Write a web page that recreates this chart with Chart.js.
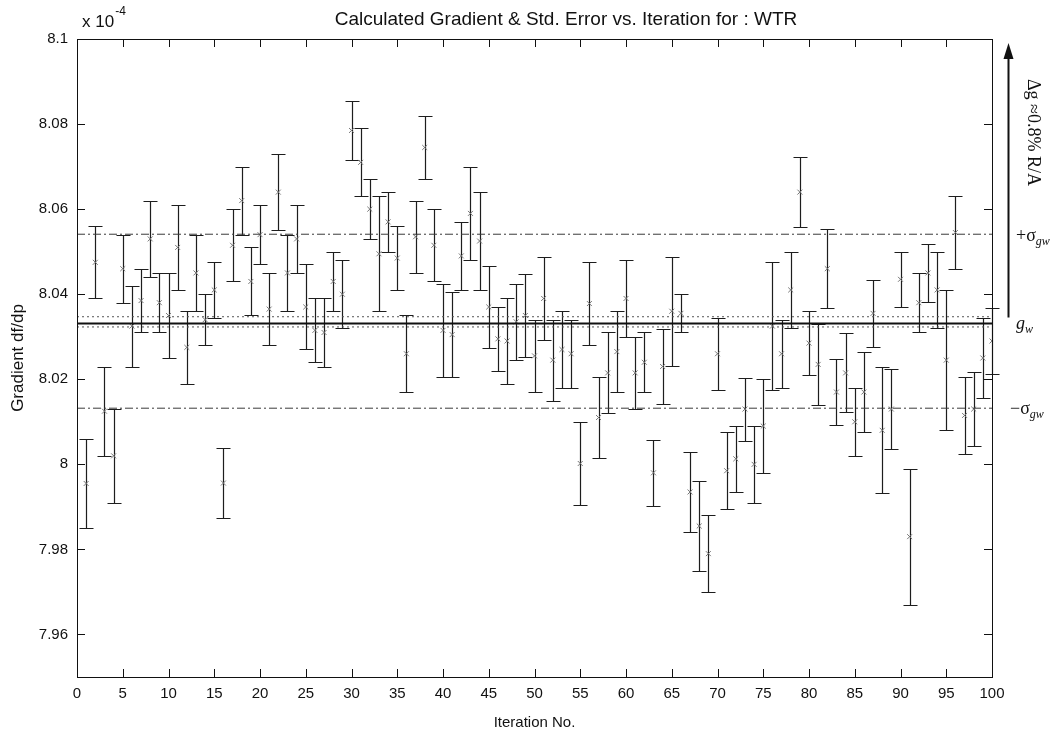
<!DOCTYPE html>
<html>
<head>
<meta charset="utf-8">
<title>Calculated Gradient & Std. Error vs. Iteration</title>
<script src="https://cdn.jsdelivr.net/npm/chart.js@4/dist/chart.umd.min.js"></script>
<style>
  html, body { margin: 0; padding: 0; background: #fff; }
  #wrap { width: 1054px; height: 739px; }
</style>
</head>
<body>
<div id="wrap"><canvas id="gradChart" width="1054" height="739"></canvas></div>
<script>
// iteration numbers (x categories)
const iterations = [
  1, 2, 3, 4, 5, 6, 7, 8, 9, 10, 11, 12, 13, 14, 15, 16, 17, 18, 19, 20,
  21, 22, 23, 24, 25, 26, 27, 28, 29, 30, 31, 32, 33, 34, 35, 36, 37, 38, 39, 40,
  41, 42, 43, 44, 45, 46, 47, 48, 49, 50, 51, 52, 53, 54, 55, 56, 57, 58, 59, 60,
  61, 62, 63, 64, 65, 66, 67, 68, 69, 70, 71, 72, 73, 74, 75, 76, 77, 78, 79, 80,
  81, 82, 83, 84, 85, 86, 87, 88, 89, 90, 91, 92, 93, 94, 95, 96, 97, 98, 99, 100
];

// calculated gradient df/dp (x 1e-4)
const gradient = [
  7.9955, 8.0475, 8.0125, 8.002, 8.046, 8.0325, 8.0385, 8.053, 8.038, 8.035,
  8.051, 8.0275, 8.045, 8.034, 8.041, 7.9956, 8.0515, 8.062, 8.043, 8.054,
  8.0365, 8.064, 8.045, 8.053, 8.037, 8.0315, 8.031, 8.043, 8.040, 8.0785,
  8.071, 8.060, 8.0495, 8.057, 8.0485, 8.026, 8.0535, 8.0745, 8.0515, 8.0315,
  8.0305, 8.049, 8.059, 8.0525, 8.037, 8.0295, 8.029, 8.0335, 8.035, 8.0255,
  8.039, 8.0245, 8.027, 8.026, 8.0002, 8.0378, 8.011, 8.0215, 8.0265, 8.039,
  8.0215, 8.024, 7.998, 8.023, 8.036, 8.0355, 7.9935, 7.9855, 7.979, 8.026,
  7.9985, 8.0013, 8.013, 8.000, 8.009, 8.0325, 8.026, 8.041, 8.064, 8.0285,
  8.0235, 8.046, 8.017, 8.0215, 8.010, 8.017, 8.0355, 8.008, 8.013, 8.0435,
  7.983, 8.038, 8.045, 8.041, 8.0245, 8.0545, 8.0115, 8.013, 8.025, 8.029
];

// standard error (half length of each bar, x 1e-4)
const stdError = [
  0.0105, 0.0085, 0.0105, 0.011, 0.008, 0.0095, 0.0075, 0.009, 0.007, 0.010,
  0.010, 0.0085, 0.009, 0.006, 0.0065, 0.0082, 0.0085, 0.008, 0.008, 0.007,
  0.0085, 0.009, 0.009, 0.008, 0.010, 0.0075, 0.008, 0.007, 0.008, 0.007,
  0.008, 0.007, 0.0135, 0.007, 0.0075, 0.009, 0.0085, 0.0075, 0.0085, 0.011,
  0.010, 0.008, 0.011, 0.0115, 0.0097, 0.0075, 0.010, 0.009, 0.0097, 0.0085,
  0.0097, 0.0095, 0.009, 0.008, 0.0098, 0.0097, 0.0095, 0.0095, 0.0095, 0.009,
  0.0085, 0.007, 0.0077, 0.0088, 0.0128, 0.0045, 0.0095, 0.0105, 0.009, 0.0085,
  0.009, 0.0078, 0.0074, 0.009, 0.011, 0.015, 0.008, 0.009, 0.0083, 0.0075,
  0.0095, 0.0093, 0.0078, 0.0093, 0.008, 0.0094, 0.0079, 0.0148, 0.0093, 0.0065,
  0.016, 0.007, 0.0068, 0.009, 0.0165, 0.0085, 0.009, 0.0086, 0.0093, 0.0077
];

// weighted mean gradient and +/- sigma bands
const gwMean = 8.0331;
const sigmaPlus = 8.0541;
const sigmaMinus = 8.0132;
const dottedUpper = 8.0347;
const dottedLower = 8.0323;

const xTicks = [0, 5, 10, 15, 20, 25, 30, 35, 40, 45, 50, 55, 60, 65, 70, 75, 80, 85, 90, 95, 100];
const yTickValues = [7.96, 7.98, 8, 8.02, 8.04, 8.06, 8.08, 8.1];
const yTickLabels = ['7.96', '7.98', '8', '8.02', '8.04', '8.06', '8.08', '8.1'];

const titleText = 'Calculated Gradient & Std. Error vs. Iteration for : WTR';
const deltaText = '\u0394g \u22480.8% R/A';

const sansFont = '"Liberation Sans", Arial, sans-serif';
const serifFont = '"Liberation Serif", "Times New Roman", serif';

function hLine(value, dash, width, color) {
  return {
    type: 'line',
    data: [{x: 0, y: value}, {x: 100, y: value}],
    borderColor: color,
    borderWidth: width,
    borderDash: dash,
    pointRadius: 0,
    showLine: true,
    fill: false
  };
}

// error bars drawn from the scales, under the markers
const errorBars = {
  id: 'errorBars',
  beforeDatasetsDraw(chart) {
    const {ctx, scales: {x, y}} = chart;
    ctx.save();
    ctx.strokeStyle = '#1d1d1d';
    ctx.lineWidth = 1.2;
    iterations.forEach((it, k) => {
      const px = Math.round(x.getPixelForValue(it)) + 0.5;
      const top = Math.round(y.getPixelForValue(gradient[k] + stdError[k])) + 0.5;
      const bot = Math.round(y.getPixelForValue(gradient[k] - stdError[k])) + 0.5;
      ctx.beginPath();
      ctx.moveTo(px, top); ctx.lineTo(px, bot);
      ctx.moveTo(px - 7, top); ctx.lineTo(px + 7, top);
      ctx.moveTo(px - 7, bot); ctx.lineTo(px + 7, bot);
      ctx.stroke();
    });
    ctx.restore();
  }
};

function drawSub(ctx, main, sub, x, y, size, italicMain) {
  ctx.font = (italicMain ? 'italic ' : '') + size + 'px ' + serifFont;
  ctx.fillText(main, x, y);
  const w = ctx.measureText(main).width;
  ctx.font = 'italic ' + Math.round(size * 0.65) + 'px ' + serifFont;
  ctx.fillText(sub, x + w, y + size * 0.3);
}

// box, inward ticks, title and the right-hand notes
const frame = {
  id: 'frame',
  afterDraw(chart) {
    const {ctx, chartArea: a, scales: {x, y}} = chart;
    ctx.save();
    ctx.strokeStyle = '#111';
    ctx.lineWidth = 1;
    ctx.strokeRect(Math.round(a.left) + 0.5, Math.round(a.top) + 0.5,
                   Math.round(a.width), Math.round(a.height));
    ctx.beginPath();
    xTicks.forEach(v => {
      const px = Math.round(x.getPixelForValue(v)) + 0.5;
      ctx.moveTo(px, a.bottom); ctx.lineTo(px, a.bottom - 8);
      ctx.moveTo(px, a.top); ctx.lineTo(px, a.top + 8);
    });
    yTickValues.forEach(v => {
      const py = Math.round(y.getPixelForValue(v)) + 0.5;
      ctx.moveTo(a.left, py); ctx.lineTo(a.left + 8, py);
      ctx.moveTo(a.right, py); ctx.lineTo(a.right - 8, py);
    });
    ctx.stroke();

    // title
    ctx.fillStyle = '#111';
    ctx.textBaseline = 'middle';
    ctx.textAlign = 'center';
    ctx.font = '19px ' + sansFont;
    ctx.fillText(titleText, 566, 20);

    // exponent label
    ctx.textAlign = 'left';
    ctx.font = '17px ' + sansFont;
    ctx.fillText('x 10', a.left + 5, a.top - 17);
    const w10 = ctx.measureText('x 10').width;
    ctx.font = '12px ' + sansFont;
    ctx.fillText('-4', a.left + 6 + w10, a.top - 27);

    // arrow showing the spread
    const ax = a.right + 16.5;
    const yg = y.getPixelForValue(gwMean);
    ctx.strokeStyle = '#111';
    ctx.lineWidth = 2;
    ctx.beginPath();
    ctx.moveTo(ax, yg - 6);
    ctx.lineTo(ax, a.top + 14);
    ctx.stroke();
    ctx.beginPath();
    ctx.moveTo(ax, a.top + 4);
    ctx.lineTo(ax - 5, a.top + 20);
    ctx.lineTo(ax + 5, a.top + 20);
    ctx.closePath();
    ctx.fill();

    // rotated note
    ctx.save();
    ctx.translate(a.right + 41, a.top + 40);
    ctx.rotate(Math.PI / 2);
    ctx.textAlign = 'left';
    ctx.font = '18px ' + serifFont;
    ctx.fillText(deltaText, 0, 0);
    ctx.restore();

    // band labels
    ctx.textAlign = 'left';
    drawSub(ctx, '+\u03c3', 'gw', a.right + 24, y.getPixelForValue(sigmaPlus) + 2, 18, false);
    drawSub(ctx, 'g', 'w', a.right + 24, y.getPixelForValue(gwMean) + 1, 18, true);
    drawSub(ctx, '\u2212\u03c3', 'gw', a.right + 18, y.getPixelForValue(sigmaMinus) + 1, 18, false);
    ctx.restore();
  }
};

new Chart(document.getElementById('gradChart'), {
  type: 'scatter',
  data: {
    datasets: [
      hLine(sigmaPlus, [8, 3, 2, 3], 1, '#3a3a3a'),
      hLine(sigmaMinus, [8, 3, 2, 3], 1, '#3a3a3a'),
      hLine(dottedUpper, [2, 3], 1, '#555'),
      hLine(dottedLower, [2, 3], 1, '#555'),
      hLine(gwMean, [], 2, '#111'),
      {
        type: 'scatter',
        data: iterations.map((it, k) => ({x: it, y: gradient[k]})),
        pointStyle: 'crossRot',
        pointRadius: 3.5,
        borderColor: '#777',
        backgroundColor: '#777',
        borderWidth: 1
      }
    ]
  },
  options: {
    responsive: false,
    animation: false,
    devicePixelRatio: 1,
    layout: { padding: { top: 39, right: 62, left: 0, bottom: 0 } },
    plugins: {
      legend: { display: false },
      title: { display: false },
      tooltip: { enabled: false }
    },
    scales: {
      x: {
        type: 'linear',
        min: 0,
        max: 100,
        afterBuildTicks: s => { s.ticks = xTicks.map(v => ({value: v})); },
        afterFit: s => { s.height = 62; },
        grid: { display: false, drawTicks: false },
        border: { display: false },
        ticks: { color: '#111', font: { family: sansFont, size: 15 }, padding: 8,
                 autoSkip: false, maxRotation: 0 },
        title: { display: true, text: 'Iteration No.', color: '#111',
                 font: { family: sansFont, size: 15 }, padding: { top: 0, bottom: 7 } }
      },
      y: {
        min: 7.95,
        max: 8.1,
        afterBuildTicks: s => { s.ticks = yTickValues.map(v => ({value: v})); },
        afterFit: s => { s.width = 77; },
        grid: { display: false, drawTicks: false },
        border: { display: false },
        ticks: {
          color: '#111', font: { family: sansFont, size: 15 }, padding: 9,
          callback: v => yTickLabels[yTickValues.indexOf(v)]
        },
        title: { display: true, text: 'Gradient df/dp', color: '#111',
                 font: { family: sansFont, size: 17 }, padding: { top: 8, bottom: 0 } }
      }
    }
  },
  plugins: [errorBars, frame]
});
</script>
</body>
</html>
